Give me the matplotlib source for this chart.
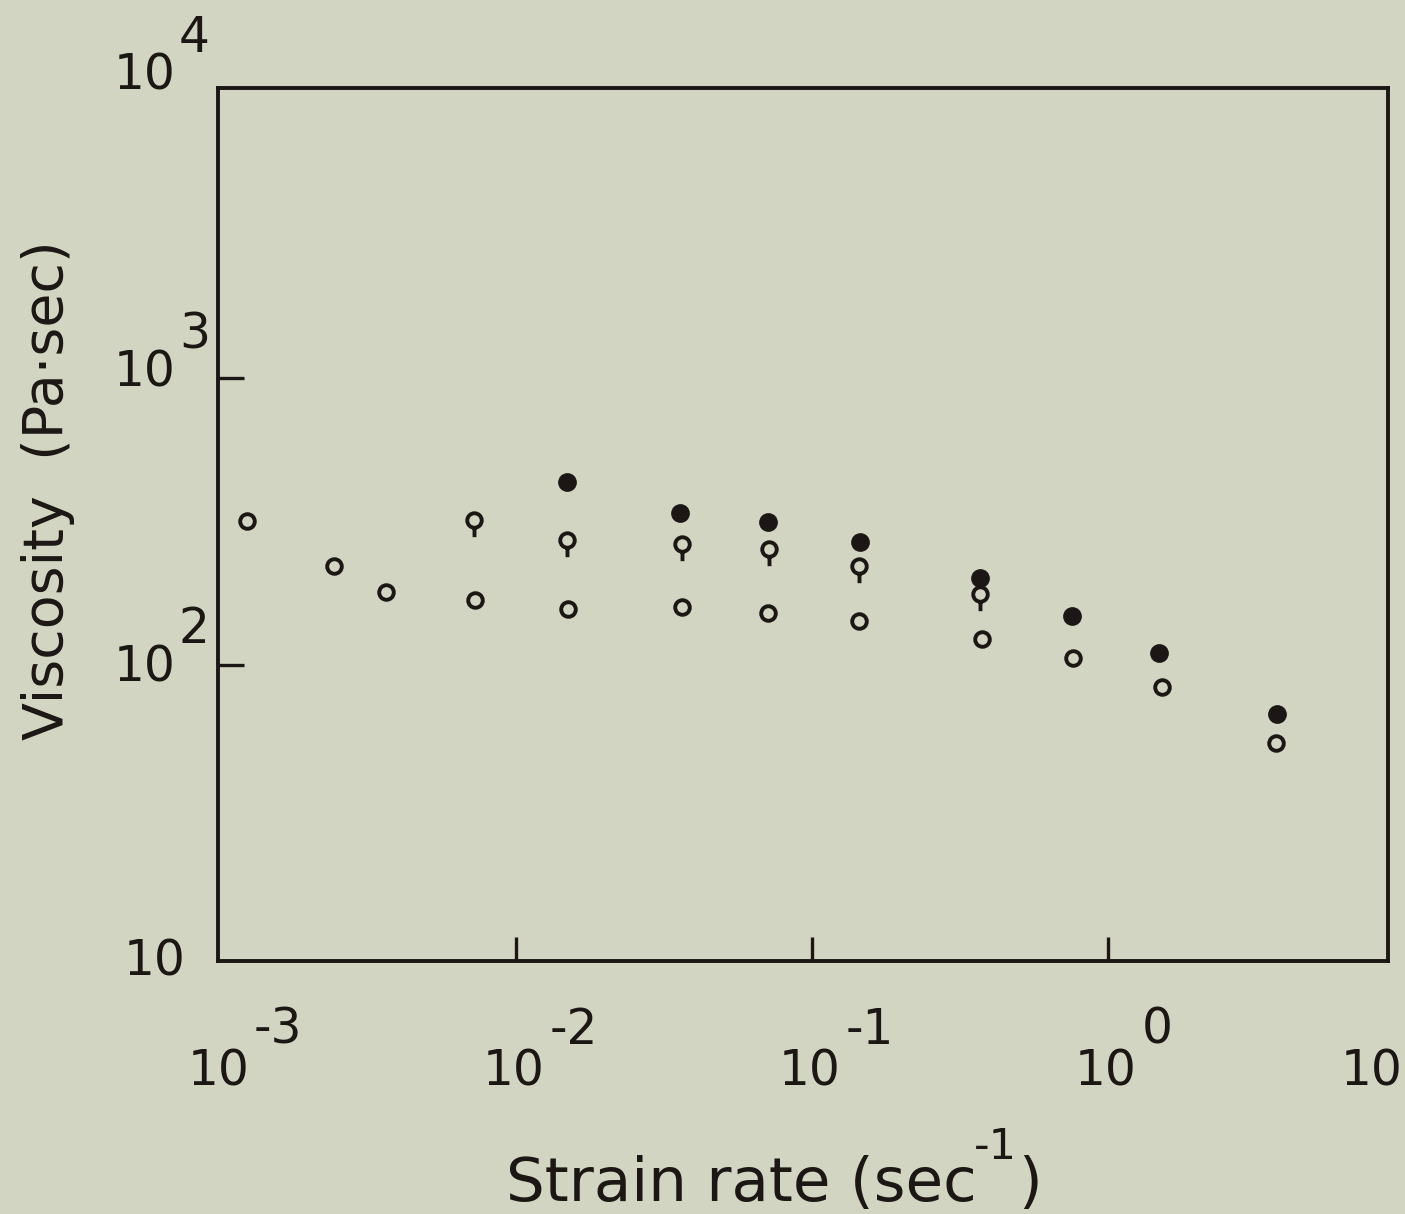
import numpy as np
import matplotlib
matplotlib.use("Agg")
import matplotlib.pyplot as plt
from matplotlib.path import Path

# ---------------- data ----------------
open_x = [0.00123, 0.00243, 0.00364, 0.00726, 0.0150, 0.0364, 0.0710, 0.144, 0.375, 0.762, 1.52, 3.70]
open_y = [318, 221, 180, 168, 157, 159, 152, 142, 123, 106, 83.8, 53.4]

tail_x = [0.00721, 0.0149, 0.0364, 0.0716, 0.144, 0.370]
tail_y = [320, 273, 264, 254, 221, 177]

filled_x = [0.0149, 0.0358, 0.0710, 0.145, 0.370, 0.755, 1.49, 3.72]
filled_y = [434, 339, 315, 268, 201, 148, 110, 67.5]

x_label_values = [1e-3, 1e-2, 1e-1, 1e0]
x_label_exps = ["-3", "-2", "-1", "0"]
y_label_values = [1e4, 1e3, 1e2]
y_label_exps = ["4", "3", "2"]

x_title_main = "Strain rate (sec"
x_title_sup = "-1"
x_title_end = ")"
y_title = "Viscosity  (Pa\u00b7sec)"

# ---------------- style ----------------
BG = "#d2d5c2"
INK = "#1c1714"
FONT = "DejaVu Sans"
plt.rcParams["font.family"] = [FONT]

W, H = 1405, 1214
fig = plt.figure(figsize=(W / 100, H / 100), dpi=100, facecolor=BG)
ax = fig.add_axes([218 / W, 1 - 961 / H, (1388 - 218) / W, (961 - 88) / H], facecolor=BG)

ax.set_xscale("log")
ax.set_yscale("log")
ax.set_xlim(10 ** -3.007, 10 ** 0.946)
ax.set_ylim(10 ** 0.969, 10 ** 4.01)

# markers
circ = Path.unit_circle()
tail = Path([[0, -1.0], [0, -2.3]], [Path.MOVETO, Path.LINETO])
tail_marker = Path.make_compound_path(circ, tail)

ax.plot(open_x, open_y, linestyle="none", marker="o", ms=10.5, mfc="none",
        mec=INK, mew=2.8, zorder=3)
ax.plot(tail_x, tail_y, linestyle="none", marker=tail_marker, ms=24, mfc="none",
        mec=INK, mew=2.8, zorder=3)
ax.plot(filled_x, filled_y, linestyle="none", marker="o", ms=12, mfc=INK,
        mec=INK, mew=1.5, zorder=4)

# frame and ticks
for s in ax.spines.values():
    s.set_linewidth(2.8)
    s.set_color(INK)
ax.set_xticks([1e-2, 1e-1, 1e0])
ax.set_yticks([1e2, 1e3])
ax.xaxis.set_minor_locator(matplotlib.ticker.NullLocator())
ax.yaxis.set_minor_locator(matplotlib.ticker.NullLocator())
ax.set_xticklabels([])
ax.set_yticklabels([])
ax.tick_params(axis="x", direction="in", length=17, width=2.4, color=INK)
ax.tick_params(axis="y", direction="in", length=19, width=2.4, color=INK)

TFS = 35
# x tick labels (10 + raised exponent)
xt = ax.get_xaxis_transform()
for v, e in zip(x_label_values, x_label_exps):
    ax.annotate("10", xy=(v, 0), xycoords=xt, xytext=(29, -110), textcoords="offset pixels",
                ha="right", va="center", fontsize=TFS, color=INK, annotation_clip=False)
    ax.annotate(e, xy=(v, 0), xycoords=xt, xytext=(34, -69), textcoords="offset pixels",
                ha="left", va="center", fontsize=TFS, color=INK, annotation_clip=False)
# right-most "10"
ax.annotate("10", xy=((1372 - 218) / (1388 - 218), 0), xycoords="axes fraction",
            xytext=(0, -110), textcoords="offset pixels", ha="center", va="center",
            fontsize=TFS, color=INK, annotation_clip=False)

# y tick labels
yt = ax.get_yaxis_transform()
y_dy = [15, 5, -2]
for v, e, dy in zip(y_label_values, y_label_exps, y_dy):
    ax.annotate("10", xy=(0, v), xycoords=yt, xytext=(-42, dy), textcoords="offset pixels",
                ha="right", va="center", fontsize=TFS, color=INK, annotation_clip=False)
    ax.annotate(e, xy=(0, v), xycoords=yt, xytext=(-39, dy + 38), textcoords="offset pixels",
                ha="left", va="center", fontsize=TFS, color=INK, annotation_clip=False)
# bottom-left "10"
ax.annotate("10", xy=(0, 0), xycoords="axes fraction", xytext=(-63, 0),
            textcoords="offset pixels", ha="center", va="center", fontsize=TFS,
            color=INK, annotation_clip=False)

# x axis title built from pieces (superscript with a short hyphen)
renderer = fig.canvas.get_renderer()
base_y = 1 - 1201 / H
t1 = fig.text(506 / W, base_y, x_title_main, ha="left", va="baseline", fontsize=44, color=INK)
bb1 = t1.get_window_extent(renderer)
t2 = fig.text((bb1.x1 - 3) / W, base_y + 42 / H, x_title_sup, ha="left", va="baseline",
              fontsize=31, color=INK)
bb2 = t2.get_window_extent(renderer)
fig.text((bb2.x1 + 1) / W, base_y, x_title_end, ha="left", va="baseline", fontsize=44, color=INK)

# y axis title
fig.text(48 / W, 1 - 490 / H, y_title, ha="center", va="center", rotation=90,
         fontsize=40, color=INK)

fig.savefig("out.png", dpi=100, facecolor=BG)
